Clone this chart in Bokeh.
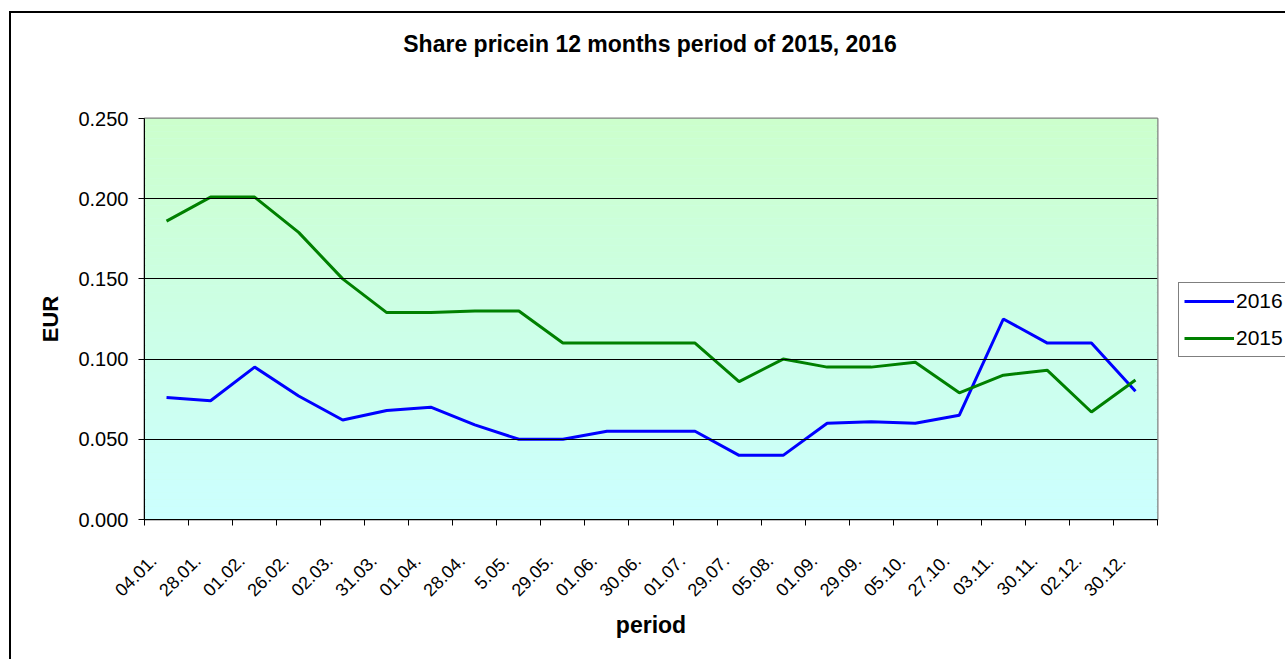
from math import pi
from bokeh.plotting import figure
from bokeh.layouts import row, column
from bokeh.models import (ColumnDataSource, FixedTicker, Legend, LegendItem,
                          BoxAnnotation, Range1d, NumeralTickFormatter, Div)
from bokeh.embed import file_html
from bokeh.resources import INLINE

# ---- data ----
title_text = "Share pricein 12 months period of 2015, 2016"
periods = ["04.01.", "28.01.", "01.02.", "26.02.", "02.03.", "31.03.", "01.04.",
           "28.04.", "5.05.", "29.05.", "01.06.", "30.06.", "01.07.", "29.07.",
           "05.08.", "01.09.", "29.09.", "05.10.", "27.10.", "03.11.", "30.11.",
           "02.12.", "30.12."]
price_2016 = [0.076, 0.074, 0.095, 0.077, 0.062, 0.068, 0.070, 0.059, 0.050, 0.050,
              0.055, 0.055, 0.055, 0.040, 0.040, 0.060, 0.061, 0.060, 0.065, 0.125,
              0.110, 0.110, 0.080]
price_2015 = [0.186, 0.201, 0.201, 0.179, 0.150, 0.129, 0.129, 0.130, 0.130, 0.110,
              0.110, 0.110, 0.110, 0.086, 0.100, 0.095, 0.095, 0.098, 0.079, 0.090,
              0.093, 0.067, 0.087]
y_ticks = [0.0, 0.05, 0.10, 0.15, 0.20, 0.25]

n = len(periods)
xs = [i + 0.5 for i in range(n)]
src = ColumnDataSource(dict(x=xs, y16=price_2016, y15=price_2015))

FONT = "Liberation Sans"
TITLE_H = 60
W1, H1 = 1156, 586
W2 = 118

# ---- title ----
title_div = Div(
    text=('<div style="width:1200px;margin-left:39px;padding-top:18px;'
          'text-align:center;font-family:\'Liberation Sans\';font-size:23px;'
          'font-weight:bold;color:#000;line-height:27px;">%s</div>' % title_text),
    width=W1 + W2, height=TITLE_H, margin=0)

# ---- main plot ----
p = figure(width=W1, height=H1, output_backend="svg", toolbar_location=None,
           x_range=Range1d(0, n), y_range=Range1d(y_ticks[0], y_ticks[-1]),
           min_border_left=133, min_border_right=10,
           min_border_top=45, min_border_bottom=140, margin=0)

# gradient background: light green (top) -> light cyan (bottom)
steps = 60
y0, y1 = y_ticks[0], y_ticks[-1]
for k in range(steps):
    t = k / (steps - 1)
    b = int(round(255 - (255 - 204) * t))
    col = "#%02x%02x%02x" % (204, 255, b)
    lo = y0 + (y1 - y0) * k / steps
    hi = y0 + (y1 - y0) * (k + 1) / steps
    p.add_layout(BoxAnnotation(bottom=lo, top=hi, fill_color=col, fill_alpha=1.0,
                               line_color=None, level="underlay"))

p.background_fill_color = "#ccffee"
p.border_fill_color = "white"
p.outline_line_color = "#808080"
p.outline_line_width = 2

p.xgrid.grid_line_color = None
p.ygrid.grid_line_color = "#000000"
p.ygrid.grid_line_width = 1
p.ygrid.level = "glyph"

r16 = p.line("x", "y16", source=src, line_color="#0000ff", line_width=3)
r15 = p.line("x", "y15", source=src, line_color="#008000", line_width=3)

# x axis (labels sit slightly left of category centre, as in the reference)
label_pos = [x - 0.3 for x in xs]
p.xaxis.ticker = FixedTicker(ticks=label_pos, minor_ticks=list(range(n + 1)))
p.xaxis.major_label_overrides = {x: lab for x, lab in zip(label_pos, periods)}
p.xaxis.major_label_orientation = pi / 4
p.xaxis.major_tick_line_color = None
p.xaxis.minor_tick_line_color = "#000000"
p.xaxis.minor_tick_in = 0
p.xaxis.minor_tick_out = 6
p.xaxis.axis_line_color = "#000000"
p.xaxis.major_label_text_font = FONT
p.xaxis.major_label_text_font_size = "18px"
p.xaxis.major_label_text_color = "#000000"
p.xaxis.major_label_standoff = 32
p.xaxis.axis_label = "period"
p.xaxis.axis_label_text_font = FONT
p.xaxis.axis_label_text_font_size = "23px"
p.xaxis.axis_label_text_font_style = "bold"
p.xaxis.axis_label_text_color = "#000000"
p.xaxis.axis_label_standoff = 7

p.yaxis.ticker = FixedTicker(ticks=y_ticks)
p.yaxis.formatter = NumeralTickFormatter(format="0.000")
p.yaxis.minor_tick_line_color = None
p.yaxis.major_tick_in = 0
p.yaxis.major_tick_out = 6
p.yaxis.axis_line_color = "#000000"
p.yaxis.major_tick_line_color = "#000000"
p.yaxis.major_label_text_font = FONT
p.yaxis.major_label_text_font_size = "20px"
p.yaxis.major_label_text_color = "#000000"
p.yaxis.major_label_standoff = 10
p.yaxis.axis_label = "EUR"
p.yaxis.axis_label_text_font = FONT
p.yaxis.axis_label_text_font_size = "22px"
p.yaxis.axis_label_text_font_style = "bold"
p.yaxis.axis_label_text_color = "#000000"
p.yaxis.axis_label_standoff = 12

# ---- legend panel (separate narrow canvas to the right of the plot) ----
p2 = figure(width=W2, height=H1, output_backend="svg", toolbar_location=None,
            x_axis_location=None, y_axis_location=None, min_border=0, margin=0,
            x_range=Range1d(0, 1), y_range=Range1d(0, 1))
p2.outline_line_color = None
p2.grid.visible = False
p2.background_fill_color = "white"
p2.border_fill_color = "white"
l16 = p2.line("x", "y16", source=src, line_color="#0000ff", line_width=3, visible=False)
l15 = p2.line("x", "y15", source=src, line_color="#008000", line_width=3, visible=False)

legend = Legend(items=[LegendItem(label="2016", renderers=[l16]),
                       LegendItem(label="2015", renderers=[l15])],
                location=(11, 162))
legend.label_text_font = FONT
legend.label_text_font_size = "21px"
legend.label_text_color = "#000000"
legend.border_line_color = "#000000"
legend.border_line_width = 1
legend.glyph_width = 50
legend.glyph_height = 26
legend.label_height = 26
legend.label_standoff = 2
legend.spacing = 11
legend.padding = 5
legend.margin = 0
legend.inactive_fill_alpha = 0
p2.add_layout(legend, "center")

layout = column(title_div, row(p, p2, spacing=0, margin=0), spacing=0,
                margin=(11, 0, 0, 9),
                styles={"border-left": "2px solid #000", "border-top": "2px solid #000"})

open("out.html", "w").write(file_html(layout, INLINE))
